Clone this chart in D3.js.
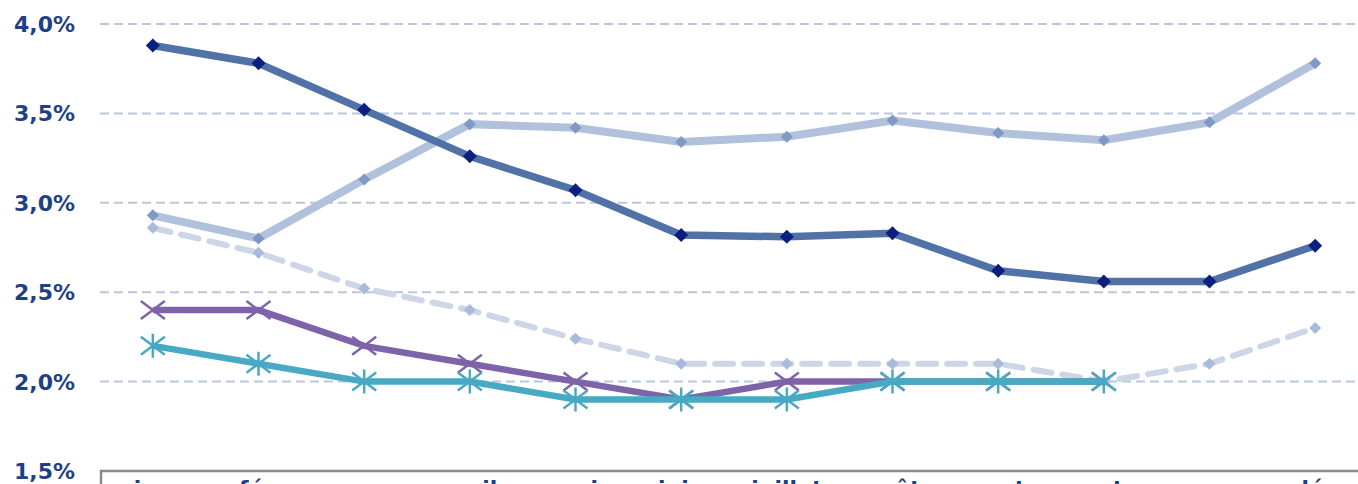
<!DOCTYPE html>
<html><head><meta charset="utf-8">
<script src="https://cdn.jsdelivr.net/npm/d3@7"></script>
<style>html,body{margin:0;padding:0;background:#fff;overflow:hidden}</style>
</head><body>
<svg id="c" width="1358" height="484"></svg>
<script>
const months = ["jan","fév","mars","avril","mai","juin","juillet","août","sept","oct","nov","déc"];
const yTicks = [1.5,2.0,2.5,3.0,3.5,4.0];
const seriesDark = [3.88,3.78,3.52,3.26,3.07,2.82,2.81,2.83,2.62,2.56,2.56,2.76];
const seriesLight = [2.93,2.80,3.13,3.44,3.42,3.34,3.37,3.46,3.39,3.35,3.45,3.78];
const seriesDashed = [2.86,2.72,2.52,2.40,2.24,2.10,2.10,2.10,2.10,2.00,2.10,2.30];
const seriesPurple = [2.40,2.40,2.20,2.10,2.00,1.90,2.00,2.00,2.00,2.00,null,null];
const seriesTeal = [2.20,2.10,2.00,2.00,1.90,1.90,1.90,2.00,2.00,2.00,null,null];

const svg = d3.select("#c");
const x = d3.scalePoint().domain(months).range([100,1368]).padding(0.5);
const y = d3.scaleLinear().domain([1.5,4.0]).range([471,24]);
const font = "'DejaVu Sans', Verdana, sans-serif";

// gridlines
svg.append("g").selectAll("line").data(yTicks.filter(t=>t>1.5)).join("line")
  .attr("x1",100).attr("x2",1358).attr("y1",d=>y(d)).attr("y2",d=>y(d))
  .attr("stroke","#b9c6de").attr("stroke-width",2).attr("stroke-dasharray","9,5");

// y labels
svg.append("g").selectAll("text").data(yTicks).join("text")
  .attr("x",75).attr("y",d=>y(d)+8).attr("text-anchor","end")
  .attr("font-family",font).attr("font-weight","bold").attr("font-size",22)
  .attr("fill","#1f3f86").text(d=>d3.format(".1f")(d).replace(".",",")+"%");

// x axis box
svg.append("rect").attr("x",101).attr("y",471).attr("width",1300).attr("height",60)
  .attr("fill","none").attr("stroke","#8a8a8a").attr("stroke-width",2.5);
svg.append("g").selectAll("text").data(months).join("text")
  .attr("x",d=>x(d)).attr("y",496).attr("text-anchor","middle")
  .attr("font-family",font).attr("font-weight","bold").attr("font-size",22)
  .attr("fill","#1f3f86").text(d=>d);

const line = d3.line().defined(d=>d!=null).x((d,i)=>x(months[i])).y(d=>y(d));
const pts = arr => arr.map((v,i)=>({v,i})).filter(d=>d.v!=null);

function diamonds(arr, r, color){
  svg.append("g").selectAll("path").data(pts(arr)).join("path")
    .attr("d",`M0,${-r}L${r},0L0,${r}L${-r},0Z`)
    .attr("transform",d=>`translate(${x(months[d.i])},${y(d.v)})`)
    .attr("fill",color);
}

// dashed series
svg.append("path").datum(seriesDashed).attr("d",line).attr("fill","none")
  .attr("stroke","#cdd6e7").attr("stroke-width",6).attr("stroke-dasharray","18,11").attr("stroke-linecap","round");
diamonds(seriesDashed,6,"#a9badb");

// light series
svg.append("path").datum(seriesLight).attr("d",line).attr("fill","none")
  .attr("stroke","#b1c1dc").attr("stroke-width",8);
diamonds(seriesLight,6,"#7f99c4");

// dark series
svg.append("path").datum(seriesDark).attr("d",line).attr("fill","none")
  .attr("stroke","#5072a6").attr("stroke-width",7.5);
diamonds(seriesDark,7,"#0b1f80");

// purple series
svg.append("path").datum(seriesPurple).attr("d",line).attr("fill","none")
  .attr("stroke","#7f63a9").attr("stroke-width",6.5);
svg.append("g").selectAll("path").data(pts(seriesPurple)).join("path")
  .attr("d","M-12,-9L12,9M-12,9L12,-9")
  .attr("transform",d=>`translate(${x(months[d.i])},${y(d.v)})`)
  .attr("stroke","#7f63a9").attr("stroke-width",2.5).attr("fill","none");

// teal series
svg.append("path").datum(seriesTeal).attr("d",line).attr("fill","none")
  .attr("stroke","#48a9c5").attr("stroke-width",6.5);
svg.append("g").selectAll("path").data(pts(seriesTeal)).join("path")
  .attr("d","M-12,-9L12,9M-12,9L12,-9M0,-12L0,12")
  .attr("transform",d=>`translate(${x(months[d.i])},${y(d.v)})`)
  .attr("stroke","#48a9c5").attr("stroke-width",2.5).attr("fill","none");
</script>
</body></html>
